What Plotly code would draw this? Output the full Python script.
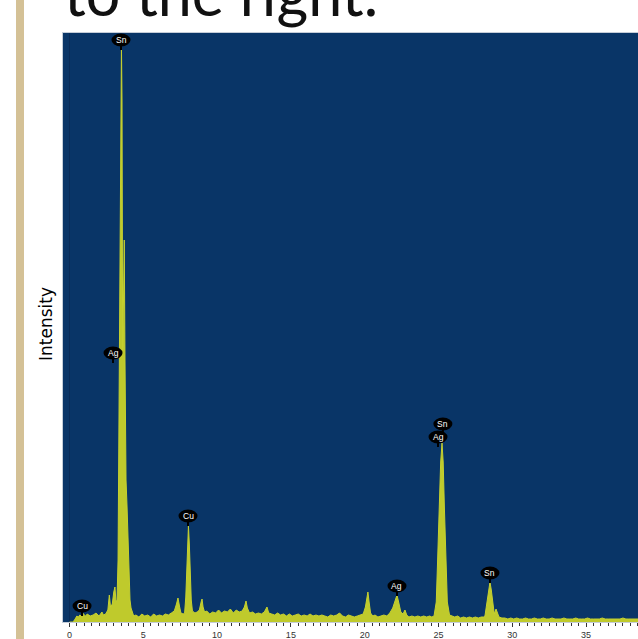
import plotly.graph_objects as go

# ---- spectrum data (energy in keV, counts) ----
low_kev = [0.0, 0.2, 0.3, 0.4, 0.5, 0.6, 0.7, 0.8, 0.9, 1.0,
           1.1, 1.2, 1.4, 1.6, 1.8, 2.0, 2.2, 2.3, 2.45, 2.6,
           2.7, 2.78, 2.9, 3.0, 3.08, 3.15]
low_counts = [0, 0, 10, 40, 60, 50, 70, 60, 90, 70,
              60, 80, 60, 70, 90, 60, 100, 70, 80, 120,
              270, 150, 180, 300, 350, 200]

snl_kev = [3.22, 3.29, 3.35, 3.42, 3.49, 3.52, 3.56, 3.60, 3.66, 3.71,
           3.76, 3.83, 3.90, 3.96, 4.03, 4.10, 4.17]
snl_counts = [220, 620, 2020, 4220, 5620, 5770, 5220, 2720, 3220, 3820,
              2620, 1420, 1150, 900, 500, 220, 140]

mid_kev = [4.25, 4.35, 4.5, 4.7, 4.9, 5.1, 5.3, 5.5, 5.7, 5.9,
           6.1, 6.3, 6.5, 6.7, 6.9, 7.1, 7.25, 7.35, 7.45, 7.55,
           7.7]
mid_counts = [100, 60, 70, 50, 80, 60, 70, 50, 80, 60,
              70, 60, 80, 70, 90, 110, 180, 240, 160, 90,
              80]

cuk_kev = [7.80, 7.88, 7.95, 8.00, 8.06, 8.12, 8.18, 8.25, 8.33]
cuk_counts = [90, 250, 500, 800, 960, 780, 450, 220, 110]

hi_kev = [8.5, 8.65, 8.8, 8.92, 8.98, 9.05, 9.15, 9.3, 9.5, 9.7,
          9.9, 10.1, 10.3, 10.5, 10.7, 10.9, 11.1, 11.3, 11.5, 11.7,
          11.85, 11.96, 12.05, 12.2, 12.4, 12.6, 12.8, 13.0, 13.2, 13.38,
          13.5, 13.7, 13.9, 14.1, 14.3, 14.5, 14.7, 14.9, 15.1, 15.3,
          15.5, 15.7, 15.9, 16.1, 16.3, 16.5, 16.7, 16.9, 17.1, 17.3,
          17.5, 17.7, 17.9, 18.1, 18.3, 18.5, 18.7, 18.9, 19.1, 19.3,
          19.5, 19.7, 19.9]
hi_counts = [90, 100, 120, 200, 230, 150, 100, 110, 80, 100,
             90, 120, 90, 110, 100, 130, 90, 120, 100, 110,
             150, 210, 140, 90, 100, 80, 90, 80, 100, 150,
             90, 80, 70, 90, 70, 80, 60, 80, 60, 70,
             80, 60, 70, 60, 80, 60, 70, 60, 70, 60,
             50, 70, 60, 70, 90, 60, 50, 70, 60, 50,
             60, 70, 80]

agk_kev = [20.05, 20.15, 20.22, 20.3, 20.4, 20.55, 20.7, 20.9, 21.1, 21.3,
           21.5, 21.7, 21.9, 22.05, 22.19, 22.3, 22.45, 22.6, 22.73, 22.85,
           23.0, 23.2, 23.4, 23.6, 23.8, 24.0, 24.2, 24.4, 24.55]
agk_counts = [150, 260, 300, 200, 90, 60, 70, 50, 60, 70,
              60, 90, 140, 220, 270, 200, 100, 80, 120, 70,
              50, 60, 50, 60, 50, 60, 50, 60, 50]

snka_kev = [24.70, 24.85, 24.95, 25.05, 25.15, 25.24, 25.32, 25.40, 25.50, 25.60,
            25.75]
snka_counts = [60, 200, 650, 1150, 1600, 1790, 1600, 1150, 600, 200,
               70]

gap_kev = [25.9, 26.1, 26.3, 26.5, 26.7, 26.9, 27.1, 27.3, 27.5, 27.7,
           27.9, 28.05]
gap_counts = [60, 50, 60, 40, 50, 40, 50, 40, 50, 40,
              50, 50]

snkb_kev = [28.15, 28.3, 28.4, 28.49, 28.58, 28.68, 28.78, 28.9, 28.98]
snkb_counts = [60, 220, 340, 400, 320, 180, 80, 130, 90]

tail_kev = [29.1, 29.3, 29.5, 29.7, 29.9, 30.1, 30.3, 30.5, 30.7, 30.9,
            31.1, 31.3, 31.5, 31.7, 31.9, 32.1, 32.3, 32.5, 32.7, 32.9,
            33.1, 33.3, 33.5, 33.7, 33.9, 34.1, 34.3, 34.5, 34.7, 34.9,
            35.1, 35.3, 35.5, 35.7, 35.9, 36.1, 36.3, 36.5, 36.7, 36.9,
            37.1, 37.3, 37.5, 37.7, 37.9, 38.1, 38.3, 38.5, 38.7]
tail_counts = [50, 40, 40, 30, 40, 30, 40, 30, 30, 40,
               30, 30, 40, 30, 30, 40, 30, 30, 40, 30,
               30, 30, 40, 30, 30, 30, 40, 30, 30, 30,
               40, 30, 30, 30, 30, 40, 30, 30, 30, 30,
               30, 30, 40, 30, 30, 30, 30, 30, 30]

# ---- peak labels ----
label_text = ["Sn", "Ag", "Cu", "Cu", "Ag", "Sn", "Ag", "Sn"]
label_kev = [3.49, 2.95, 8.03, 0.85, 22.19, 25.3, 24.97, 28.49]
label_counts = [5820, 2690, 1060, 160, 360, 1980, 1850, 490]

# ---- axis ----
tick_vals = [0, 5, 10, 15, 20, 25, 30, 35]
tick_text = ["0", "5", "10", "15", "20", "25", "30", "35"]

energy = (low_kev + snl_kev + mid_kev + cuk_kev + hi_kev + agk_kev
          + snka_kev + gap_kev + snkb_kev + tail_kev)
counts = (low_counts + snl_counts + mid_counts + cuk_counts + hi_counts
          + agk_counts + snka_counts + gap_counts + snkb_counts + tail_counts)

W, H = 638, 639
ML, MR, MT, MB = 63, 0, 33, 17
PW, PH = W - ML - MR, H - MT - MB

def px_to_paper_x(px):
    return (px - ML) / PW

def px_to_paper_y(py):
    return (H - MB - py) / PH

fig = go.Figure()
fig.add_trace(go.Scatter(
    x=energy, y=counts, mode="lines", fill="tozeroy",
    line=dict(color="#c6d12f", width=1),
    fillcolor="#bfca2c", hoverinfo="skip", showlegend=False,
))

shapes = []
# tan side bar
shapes.append(dict(type="rect", xref="paper", yref="paper",
                   x0=px_to_paper_x(16), x1=px_to_paper_x(24),
                   y0=px_to_paper_y(H + 5), y1=px_to_paper_y(-5),
                   fillcolor="#d4c196", line=dict(width=0), layer="below"))

annotations = []
for t, e, c in zip(label_text, label_kev, label_counts):
    shapes.append(dict(type="line", xref="x", yref="y",
                       xsizemode="pixel", ysizemode="pixel",
                       xanchor=e, yanchor=c, x0=0, x1=0, y0=-4, y1=-10,
                       line=dict(color="black", width=2)))
    shapes.append(dict(type="circle", xref="x", yref="y",
                       xsizemode="pixel", ysizemode="pixel",
                       xanchor=e, yanchor=c, x0=-9.5, x1=9.5, y0=-6.5, y1=6.5,
                       fillcolor="black", line=dict(color="black", width=0)))
    annotations.append(dict(x=e, y=c, xref="x", yref="y", text=t,
                            showarrow=False, xanchor="center", yanchor="middle",
                            font=dict(family="Liberation Sans, Arial", size=8.5, color="white")))

annotations.append(dict(text="Intensity", xref="paper", yref="paper",
                        x=px_to_paper_x(46), y=px_to_paper_y(324),
                        xanchor="center", yanchor="middle", textangle=-90,
                        showarrow=False,
                        font=dict(family="DejaVu Sans", size=17, color="black")))

annotations.append(dict(text="to the right.", xref="paper", yref="paper",
                        x=px_to_paper_x(62), y=px_to_paper_y(31),
                        xanchor="left", yanchor="bottom", showarrow=False,
                        font=dict(family="Lato", size=61, color="#111111")))

fig.update_layout(
    width=W, height=H,
    margin=dict(l=ML, r=MR, t=MT, b=MB, pad=0),
    paper_bgcolor="white", plot_bgcolor="#093567",
    shapes=shapes, annotations=annotations,
    xaxis=dict(range=[-0.44, 38.52], tickvals=tick_vals, ticktext=tick_text,
               ticks="outside", ticklen=4, tickcolor="#333333", tickwidth=1,
               minor=dict(dtick=0.5, tick0=0, ticks="outside", ticklen=3,
                          tickcolor="#333333", tickwidth=1),
               showgrid=False, zeroline=True, zerolinecolor="#072b58",
               zerolinewidth=1, showline=True, linecolor="#c5cdd8",
               linewidth=1, mirror=True,
               tickfont=dict(family="Liberation Sans, Arial", size=9, color="#333333")),
    yaxis=dict(range=[0, 5890], showticklabels=False, ticks="",
               showgrid=False, zeroline=False, showline=True,
               linecolor="#c5cdd8", linewidth=1, mirror=True),
)

fig.write_html("out.html",
               config={"displayModeBar": False},
               post_script="document.body.style.margin='0';document.body.style.overflow='hidden';")
